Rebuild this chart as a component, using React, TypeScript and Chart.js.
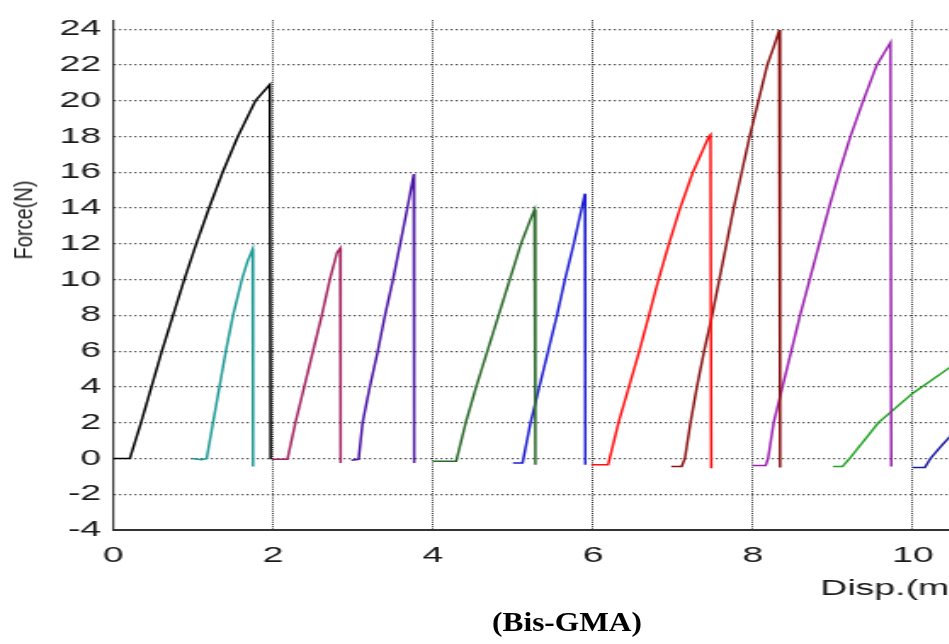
import { useEffect, useRef } from "react";
import { Chart, registerables } from "chart.js";

Chart.register(...registerables);

// Displacement (mm) and force (N) readings for each specimen trace
const S1_DISP = [0, 0.21, 0.35, 0.48, 0.61, 0.75, 0.89, 1.04, 1.2, 1.37, 1.56, 1.78, 1.96, 1.97];
const S1_FORCE = [0, 0, 2, 4, 6, 8, 10, 12, 14, 16, 18, 20, 20.9, -0.05];

const S2_DISP = [0.98, 1.11, 1.17, 1.25, 1.33, 1.41, 1.5, 1.61, 1.68, 1.745, 1.75];
const S2_FORCE = [0, -0.07, 0, 2, 4, 6, 8, 10, 11, 11.7, -0.45];

const S3_DISP = [1.99, 2.18, 2.28, 2.39, 2.5, 2.61, 2.71, 2.8, 2.84, 2.845];
const S3_FORCE = [-0.05, -0.05, 2, 4, 6, 8, 10, 11.5, 11.75, -0.25];

const S4_DISP = [2.98, 3.07, 3.12, 3.21, 3.31, 3.4, 3.5, 3.59, 3.68, 3.76, 3.765];
const S4_FORCE = [-0.1, -0.05, 2, 4, 6, 8, 10, 12, 14, 15.9, -0.25];

const S5_DISP = [4.0, 4.29, 4.41, 4.54, 4.68, 4.82, 4.96, 5.1, 5.24, 5.27, 5.28];
const S5_FORCE = [-0.15, -0.15, 2, 4, 6, 8, 10, 12, 13.6, 13.9, -0.35];

const S6_DISP = [5.0, 5.12, 5.22, 5.33, 5.44, 5.55, 5.65, 5.76, 5.86, 5.9, 5.905];
const S6_FORCE = [-0.25, -0.25, 2, 4, 6, 8, 10, 12, 14, 14.8, -0.35];

const S7_DISP = [5.98, 6.19, 6.32, 6.45, 6.58, 6.7, 6.82, 6.95, 7.09, 7.25, 7.45, 7.47, 7.48];
const S7_FORCE = [-0.35, -0.35, 2, 4, 6, 8, 10, 12, 14, 16, 18, 18.1, -0.55];

const S8_DISP = [6.98, 7.11, 7.15, 7.22, 7.3, 7.39, 7.49, 7.58, 7.67, 7.76, 7.86, 7.96, 8.07, 8.18, 8.26, 8.33, 8.34];
const S8_FORCE = [-0.45, -0.45, 0, 2, 4, 6, 8, 10, 12, 14, 16, 18, 20, 22, 23, 23.95, -0.5];

const S9_DISP = [8.0, 8.16, 8.19, 8.26, 8.37, 8.48, 8.59, 8.71, 8.83, 8.95, 9.08, 9.22, 9.38, 9.55, 9.72, 9.73];
const S9_FORCE = [-0.4, -0.4, 0, 2, 4, 6, 8, 10, 12, 14, 16, 18, 20, 22, 23.25, -0.45];

const S10_DISP = [9.0, 9.12, 9.21, 9.57, 10.0, 10.45, 10.6];
const S10_FORCE = [-0.45, -0.45, 0, 2, 3.65, 5.05, 5.5];

const S11_DISP = [10.0, 10.15, 10.22, 10.37, 10.45, 10.6];
const S11_FORCE = [-0.5, -0.5, 0, 0.77, 1.15, 1.8];

const SPECIMEN_COLORS = [
  "#000000",
  "#1f9a96",
  "#a3245f",
  "#4b12a5",
  "#2a6a2a",
  "#1e1ed2",
  "#ff1010",
  "#8b1212",
  "#9c22b0",
  "#22a322",
  "#1a1a9e",
];

const X_TICKS = [0, 2, 4, 6, 8, 10];
const Y_TICKS = [-4, -2, 0, 2, 4, 6, 8, 10, 12, 14, 16, 18, 20, 22, 24];

const SPECIMENS = [
  [S1_DISP, S1_FORCE],
  [S2_DISP, S2_FORCE],
  [S3_DISP, S3_FORCE],
  [S4_DISP, S4_FORCE],
  [S5_DISP, S5_FORCE],
  [S6_DISP, S6_FORCE],
  [S7_DISP, S7_FORCE],
  [S8_DISP, S8_FORCE],
  [S9_DISP, S9_FORCE],
  [S10_DISP, S10_FORCE],
  [S11_DISP, S11_FORCE],
];

// The plot is drawn narrow and widened with a horizontal stretch
const STRETCH = 1.7;
const CANVAS_W = 600;
const CANVAS_H = 612;

const TICK_FONT = { family: "'Liberation Sans', Arial, sans-serif", size: 22 };

export default function App() {
  const canvasRef = useRef<HTMLCanvasElement | null>(null);

  useEffect(() => {
    if (!canvasRef.current) return;
    const datasets = SPECIMENS.map(([disp, force], i) => ({
      data: disp.map((x, j) => ({ x, y: force[j] })),
      borderColor: SPECIMEN_COLORS[i],
      borderWidth: 1.5,
      pointRadius: 0,
      tension: 0,
      fill: false,
    }));

    const chart = new Chart(canvasRef.current, {
      type: "line",
      data: { datasets },
      options: {
        animation: false,
        responsive: false,
        maintainAspectRatio: false,
        layout: { padding: { top: 10, right: 16, left: 0, bottom: 0 } },
        plugins: {
          legend: { display: false },
          tooltip: { enabled: false },
        },
        scales: {
          x: {
            type: "linear",
            min: 0,
            max: 11,
            afterBuildTicks: (scale: any) => {
              scale.ticks = X_TICKS.map((value) => ({ value }));
            },
            afterFit: (scale: any) => {
              scale.height = 82;
            },
            ticks: {
              padding: 13,
              font: TICK_FONT,
              color: "#1a1a1a",
              maxRotation: 0,
              autoSkip: false,
            },
            grid: { color: "#222", lineWidth: 1, drawTicks: false },
            border: { color: "#333", width: 2, dash: [1, 1.2] },
            title: {
              display: true,
              text: "Disp.(mm)",
              align: "end",
              color: "#1a1a1a",
              font: TICK_FONT,
              padding: { top: 0, bottom: 10 },
            },
          },
          y: {
            type: "linear",
            min: -4,
            max: 24.5,
            afterBuildTicks: (scale: any) => {
              scale.ticks = Y_TICKS.map((value) => ({ value }));
            },
            afterFit: (scale: any) => {
              scale.width = 66.5;
            },
            ticks: {
              padding: 7,
              font: TICK_FONT,
              color: "#1a1a1a",
              autoSkip: false,
            },
            grid: { color: "#222", lineWidth: 1.2, drawTicks: false },
            border: { color: "#333", width: 1.2, dash: [1, 2] },
          },
        },
      },
    });

    return () => chart.destroy();
  }, []);

  return (
    <div
      style={{
        position: "absolute",
        left: 0,
        top: 0,
        width: 949,
        height: 644,
        overflow: "hidden",
        background: "#fff",
      }}
    >
      <div
        style={{
          position: "absolute",
          left: 0,
          top: 0,
          width: CANVAS_W,
          height: CANVAS_H,
          transform: `scaleX(${STRETCH})`,
          transformOrigin: "0 0",
        }}
      >
        <canvas
          ref={canvasRef}
          width={CANVAS_W}
          height={CANVAS_H}
          style={{ display: "block" }}
        />
      </div>
      <div
        style={{
          position: "absolute",
          left: 23,
          top: 220,
          transform: "translate(-50%, -50%) rotate(-90deg) scaleY(1.25)",
          fontFamily: "'Liberation Sans', Arial, sans-serif",
          fontSize: 20,
          lineHeight: 1,
          color: "#1a1a1a",
          whiteSpace: "nowrap",
        }}
      >
        Force(N)
      </div>
      <div
        style={{
          position: "absolute",
          left: 566.5,
          top: 621.5,
          transform: "translate(-50%, -50%) scaleX(1.12)",
          fontFamily: "'Liberation Serif', 'Times New Roman', serif",
          fontWeight: "bold",
          fontSize: 28,
          lineHeight: 1,
          color: "#000",
          whiteSpace: "nowrap",
        }}
      >
        (Bis-GMA)
      </div>
    </div>
  );
}
